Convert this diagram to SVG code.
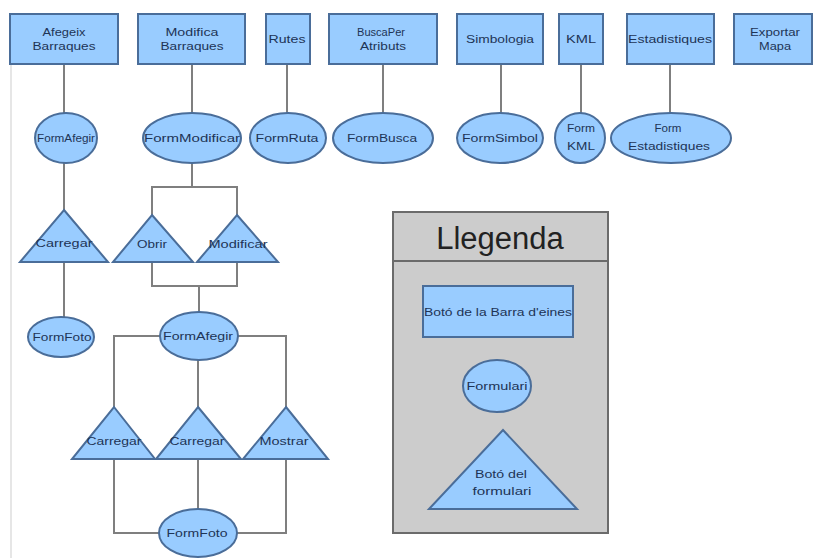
<svg xmlns="http://www.w3.org/2000/svg" width="813" height="558" viewBox="0 0 813 558">
<style>
.b{fill:#99ccff;stroke:#4a6d99;stroke-width:2}
.c{fill:none;stroke:#7f7f7f;stroke-width:2}
.t{font-family:"Liberation Sans",Arial,sans-serif;font-size:10px;fill:#1e3456;text-anchor:middle}
</style>
<rect width="813" height="558" fill="#ffffff"/>
<line x1="11" y1="64" x2="11" y2="558" stroke="#e6e6e6" stroke-width="2"/>
<g id="connectors" class="c">
<line x1="64" y1="64" x2="64" y2="113"/>
<line x1="192" y1="64" x2="192" y2="113"/>
<line x1="287" y1="64" x2="287" y2="113"/>
<line x1="383" y1="64" x2="383" y2="113"/>
<line x1="501" y1="64" x2="501" y2="113"/>
<line x1="581" y1="64" x2="581" y2="113"/>
<line x1="670" y1="64" x2="670" y2="113"/>
<line x1="64" y1="163" x2="64" y2="210"/>
<line x1="64" y1="262" x2="64" y2="317"/>
<polyline points="192,163 192,187"/>
<polyline points="152,215 152,187 237,187 237,215"/>
<polyline points="152,262 152,286 237,286 237,262"/>
<line x1="199" y1="286" x2="199" y2="312"/>
<polyline points="114,407 114,336 160,336"/>
<polyline points="238,336 286,336 286,407"/>
<line x1="198" y1="360" x2="198" y2="407"/>
<polyline points="114,459 114,533 159,533"/>
<polyline points="237,533 286,533 286,459"/>
<line x1="198" y1="459" x2="198" y2="509"/>
</g>
<g id="afegeix"><rect class="b" x="10" y="14" width="108" height="50"/><text class="t" x="64" y="36" textLength="43" lengthAdjust="spacingAndGlyphs">Afegeix</text><text class="t" x="64" y="50" textLength="63" lengthAdjust="spacingAndGlyphs">Barraques</text></g>
<g id="modifica"><rect class="b" x="138" y="14" width="107" height="50"/><text class="t" x="192" y="36" textLength="53" lengthAdjust="spacingAndGlyphs">Modifica</text><text class="t" x="192" y="50" textLength="63" lengthAdjust="spacingAndGlyphs">Barraques</text></g>
<g id="rutes"><rect class="b" x="266" y="14" width="44" height="50"/><text class="t" x="287" y="43" textLength="37" lengthAdjust="spacingAndGlyphs">Rutes</text></g>
<g id="busca"><rect class="b" x="329" y="14" width="108" height="50"/><text class="t" x="381" y="36" textLength="48" lengthAdjust="spacingAndGlyphs">BuscaPer</text><text class="t" x="383" y="50" textLength="46" lengthAdjust="spacingAndGlyphs">Atributs</text></g>
<g id="simbologia"><rect class="b" x="457" y="14" width="86" height="50"/><text class="t" x="500" y="43" textLength="68" lengthAdjust="spacingAndGlyphs">Simbologia</text></g>
<g id="kml"><rect class="b" x="559" y="14" width="44" height="50"/><text class="t" x="581" y="43" textLength="30" lengthAdjust="spacingAndGlyphs">KML</text></g>
<g id="estadistiques"><rect class="b" x="627" y="14" width="87" height="50"/><text class="t" x="670" y="43" textLength="84" lengthAdjust="spacingAndGlyphs">Estadistiques</text></g>
<g id="exportar"><rect class="b" x="734" y="14" width="78" height="50"/><text class="t" x="775" y="36" textLength="50" lengthAdjust="spacingAndGlyphs">Exportar</text><text class="t" x="775" y="50" textLength="32" lengthAdjust="spacingAndGlyphs">Mapa</text></g>
<g id="formAfegir"><ellipse class="b" cx="66" cy="138" rx="31" ry="25"/><text class="t" x="66" y="142" textLength="58" lengthAdjust="spacingAndGlyphs">FormAfegir</text></g>
<g id="formModificar"><ellipse class="b" cx="192" cy="138" rx="49" ry="25"/><text class="t" x="192" y="142" textLength="96" lengthAdjust="spacingAndGlyphs">FormModificar</text></g>
<g id="formRuta"><ellipse class="b" cx="288" cy="138" rx="38" ry="25"/><text class="t" x="287" y="142" textLength="63" lengthAdjust="spacingAndGlyphs">FormRuta</text></g>
<g id="formBusca"><ellipse class="b" cx="383" cy="138" rx="50" ry="25"/><text class="t" x="382" y="142" textLength="70" lengthAdjust="spacingAndGlyphs">FormBusca</text></g>
<g id="formSimbol"><ellipse class="b" cx="500" cy="138" rx="43" ry="25"/><text class="t" x="500" y="142" textLength="76" lengthAdjust="spacingAndGlyphs">FormSimbol</text></g>
<g id="formKML"><ellipse class="b" cx="580" cy="138" rx="25" ry="25"/><text class="t" x="581" y="132" textLength="28" lengthAdjust="spacingAndGlyphs">Form</text><text class="t" x="581" y="150" textLength="28" lengthAdjust="spacingAndGlyphs">KML</text></g>
<g id="formEstadistiques"><ellipse class="b" cx="671" cy="138" rx="60" ry="25"/><text class="t" x="668" y="132" textLength="27" lengthAdjust="spacingAndGlyphs">Form</text><text class="t" x="669" y="150" textLength="82" lengthAdjust="spacingAndGlyphs">Estadistiques</text></g>
<g id="carregar1"><polygon class="b" points="64,210 108,262 20,262"/><text class="t" x="64" y="247" textLength="57" lengthAdjust="spacingAndGlyphs">Carregar</text></g>
<g id="obrir"><polygon class="b" points="152,215 193,262 113,262"/><text class="t" x="152" y="248" textLength="30" lengthAdjust="spacingAndGlyphs">Obrir</text></g>
<g id="modificar"><polygon class="b" points="237,215 278,262 197,262"/><text class="t" x="238" y="248" textLength="59" lengthAdjust="spacingAndGlyphs">Modificar</text></g>
<g id="formFoto1"><ellipse class="b" cx="61" cy="337" rx="33" ry="20"/><text class="t" x="62" y="341" textLength="59" lengthAdjust="spacingAndGlyphs">FormFoto</text></g>
<g id="formAfegir2"><ellipse class="b" cx="199" cy="336" rx="39" ry="24"/><text class="t" x="198" y="340" textLength="70" lengthAdjust="spacingAndGlyphs">FormAfegir</text></g>
<g id="carregar2"><polygon class="b" points="114,407 155,459 72,459"/><text class="t" x="114" y="445" textLength="55" lengthAdjust="spacingAndGlyphs">Carregar</text></g>
<g id="carregar3"><polygon class="b" points="198,407 241,459 156,459"/><text class="t" x="197" y="445" textLength="55" lengthAdjust="spacingAndGlyphs">Carregar</text></g>
<g id="mostrar"><polygon class="b" points="286,407 328,459 243,459"/><text class="t" x="284" y="445" textLength="49" lengthAdjust="spacingAndGlyphs">Mostrar</text></g>
<g id="formFoto2"><ellipse class="b" cx="198" cy="533" rx="39" ry="24"/><text class="t" x="197" y="537" textLength="61" lengthAdjust="spacingAndGlyphs">FormFoto</text></g>
<g id="llegenda">
<rect x="393" y="212" width="215" height="321" fill="#cccccc" stroke="#6b6b6b" stroke-width="2"/>
<line x1="393" y1="261" x2="608" y2="261" stroke="#6b6b6b" stroke-width="2"/>
<text x="500" y="249" font-family="Liberation Sans,Arial,sans-serif" font-size="31" fill="#222222" text-anchor="middle">Llegenda</text>
<rect class="b" x="423" y="286" width="150" height="51"/>
<text class="t" x="498" y="316" textLength="148" lengthAdjust="spacingAndGlyphs">Botó de la Barra d'eines</text>
<ellipse class="b" cx="497" cy="386" rx="34" ry="26"/>
<text class="t" x="497" y="390" textLength="61" lengthAdjust="spacingAndGlyphs">Formulari</text>
<polygon class="b" points="503,430 577,509 429,509"/>
<text class="t" x="501" y="478" textLength="52" lengthAdjust="spacingAndGlyphs">Botó del</text>
<text class="t" x="502" y="495" textLength="59" lengthAdjust="spacingAndGlyphs">formulari</text>
</g>
</svg>
